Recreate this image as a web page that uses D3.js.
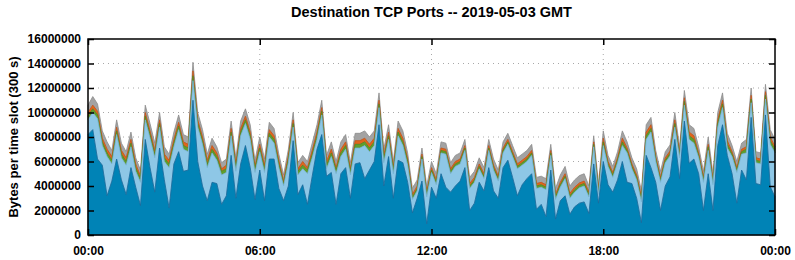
<!DOCTYPE html>
<html>
<head>
<meta charset="utf-8">
<script src="https://cdn.jsdelivr.net/npm/d3@7"></script>
<style>
body { margin: 0; background: #fff; }
text { font-family: "Liberation Sans", Arial, sans-serif; font-weight: bold; }
</style>
</head>
<body>
<div id="chart"></div>
<script>
// values in millions of bytes, one reading every 10 minutes from 00:00 to 24:00
var total = [
  10.6, 11.3, 10.7, 8.5, 7.6, 6.9, 9.4, 7.5, 6.8, 8.4, 6.3, 5.3, 10.6, 9.1, 7.5, 10.0, 7.2, 6.6, 8.4, 9.8,
  8.2, 8.0, 14.1, 10.0, 8.6, 6.6, 7.9, 7.2, 5.9, 6.2, 9.3, 6.3, 9.3, 10.3, 9.0, 6.1, 8.0,
  6.2, 9.2, 8.7, 6.6, 4.9, 7.0, 10.0, 5.9, 6.5, 6.0, 7.5, 9.0, 11.0, 6.5, 7.6, 6.0, 7.6, 8.2, 5.9, 8.3,
  8.3, 8.5, 8.0, 8.5, 11.6, 7.0, 9.0, 6.0, 9.3, 8.5, 6.7, 3.8, 4.5, 7.1, 4.0,
  6.0, 5.0, 7.6, 7.5, 5.9, 6.5, 6.7, 7.8, 4.7, 5.2, 6.3, 5.5, 7.8, 6.2, 5.3, 7.6, 8.3, 7.3, 6.3, 6.6,
  6.9, 7.4, 4.7, 4.8, 4.6, 7.4, 3.8, 4.9, 5.6, 4.0, 4.5, 4.85, 5.0, 4.0, 8.1, 4.2,
  8.5, 6.5, 5.6, 6.8, 8.5, 7.6, 6.3, 5.4, 3.6, 9.0, 9.6, 6.9, 5.2, 6.8, 7.35, 10.0, 7.2, 11.8, 9.0, 8.7,
  7.2, 5.2, 8.0, 5.0, 10.0, 11.6, 8.3, 7.3, 6.0, 7.5, 7.8, 12.0, 6.8, 6.7, 12.3, 8.6, 7.8
];
var dark = [
  8.2, 8.6, 6.2, 5.7, 3.2, 4.4, 6.2, 4.5, 3.3, 5.5, 3.9, 2.4, 7.8, 5.5, 3.5, 7.1, 4.5, 2.2, 5.8, 6.8,
  5.2, 5.3, 11.0, 6.0, 4.0, 2.8, 4.3, 4.2, 2.5, 3.2, 6.5, 3.0, 5.8, 7.3, 5.5, 2.9, 5.3,
  2.8, 6.2, 6.2, 3.8, 2.8, 4.0, 7.7, 3.3, 4.1, 2.5, 4.8, 7.0, 8.2, 4.8, 5.1, 2.5, 5.0, 5.5, 3.0, 5.8,
  5.9, 4.6, 5.3, 6.0, 9.0, 4.0, 6.4, 3.0, 6.1, 5.9, 4.3, 1.8, 3.0, 4.4, 0.9,
  3.9, 3.0, 5.0, 3.9, 3.5, 4.0, 4.4, 5.5, 2.0, 2.6, 4.3, 3.6, 5.5, 3.6, 3.0, 5.5, 6.1, 4.7, 3.2, 4.1,
  4.6, 5.0, 2.1, 2.5, 1.5, 5.3, 1.3, 2.8, 3.2, 1.7, 2.3, 2.6, 2.7, 1.75, 5.8, 2.6,
  6.0, 4.1, 3.5, 4.5, 6.0, 4.3, 4.2, 3.0, 1.0, 6.5, 5.5, 4.3, 2.0, 4.0, 4.75, 7.8, 4.6, 9.3, 5.85, 6.2,
  5.0, 2.0, 5.0, 2.0, 7.3, 9.0, 6.5, 5.0, 2.6, 5.3, 4.5, 9.6, 4.2, 4.1, 9.8, 3.95, 3.1
];
var green = [
  0.3, 0.3, 0.3, 0.3, 0.3, 0.3, 0.3, 0.3, 0.3, 0.3, 0.3, 0.3, 0.3, 0.3, 0.3, 0.3, 0.3, 0.3, 0.3, 0.3,
  0.3, 0.3, 0.4, 0.3, 0.3, 0.3, 0.3, 0.3, 0.3, 0.3, 0.3, 0.3, 0.3, 0.3, 0.3, 0.3, 0.3,
  0.3, 0.3, 0.3, 0.3, 0.2, 0.3, 0.3, 0.3, 0.3, 0.3, 0.3, 0.3, 0.3, 0.3, 0.3, 0.3, 0.3, 0.3, 0.3, 0.3,
  0.3, 0.3, 0.3, 0.3, 0.3, 0.3, 0.3, 0.3, 0.3, 0.3, 0.3, 0.2, 0.2, 0.2, 0.2,
  0.2, 0.2, 0.2, 0.2, 0.2, 0.2, 0.2, 0.2, 0.2, 0.2, 0.2, 0.2, 0.2, 0.2, 0.2, 0.2, 0.2, 0.2, 0.2, 0.2,
  0.2, 0.2, 0.2, 0.2, 0.2, 0.2, 0.2, 0.2, 0.2, 0.2, 0.2, 0.2, 0.2, 0.2, 0.2, 0.2,
  0.3, 0.2, 0.2, 0.2, 0.3, 0.2, 0.2, 0.2, 0.2, 0.3, 0.3, 0.2, 0.2, 0.2, 0.2, 0.3, 0.2, 0.3, 0.3, 0.3,
  0.2, 0.2, 0.3, 0.2, 0.3, 0.3, 0.3, 0.2, 0.2, 0.2, 0.3, 0.3, 0.2, 0.2, 0.3, 0.3, 0.3
];
var orange = [
  0.3, 0.3, 0.3, 0.3, 0.3, 0.3, 0.3, 0.3, 0.3, 0.3, 0.3, 0.2, 0.3, 0.3, 0.3, 0.3, 0.3, 0.3, 0.3, 0.3,
  0.3, 0.3, 0.4, 0.3, 0.3, 0.3, 0.3, 0.3, 0.2, 0.3, 0.3, 0.3, 0.3, 0.3, 0.3, 0.2, 0.3,
  0.3, 0.3, 0.3, 0.3, 0.2, 0.3, 0.3, 0.2, 0.3, 0.2, 0.3, 0.3, 0.3, 0.3, 0.3, 0.2, 0.3, 0.3, 0.2, 0.3,
  0.3, 0.3, 0.3, 0.3, 0.3, 0.3, 0.3, 0.2, 0.3, 0.3, 0.2, 0.2, 0.2, 0.2, 0.2,
  0.2, 0.2, 0.2, 0.2, 0.2, 0.2, 0.2, 0.2, 0.2, 0.2, 0.2, 0.2, 0.2, 0.2, 0.2, 0.2, 0.2, 0.2, 0.2, 0.2,
  0.2, 0.2, 0.2, 0.2, 0.2, 0.2, 0.2, 0.2, 0.2, 0.2, 0.2, 0.2, 0.2, 0.2, 0.2, 0.2,
  0.3, 0.2, 0.2, 0.2, 0.3, 0.2, 0.2, 0.2, 0.2, 0.3, 0.3, 0.2, 0.2, 0.2, 0.2, 0.3, 0.2, 0.3, 0.3, 0.3,
  0.2, 0.2, 0.2, 0.2, 0.3, 0.3, 0.3, 0.2, 0.2, 0.2, 0.2, 0.3, 0.2, 0.2, 0.3, 0.3, 0.2
];
var gray = [
  0.6, 0.7, 0.6, 0.6, 0.6, 0.5, 0.6, 0.6, 0.5, 0.6, 0.5, 0.5, 0.6, 0.6, 0.6, 0.6, 0.6, 0.5, 0.6, 0.6,
  0.6, 0.6, 0.7, 0.6, 0.6, 0.5, 0.6, 0.5, 0.5, 0.5, 0.6, 0.5, 0.6, 0.6, 0.6, 0.5, 0.6,
  0.5, 0.6, 0.6, 0.5, 0.5, 0.5, 0.6, 0.5, 0.5, 0.5, 0.6, 0.6, 0.6, 0.5, 0.6, 0.5, 0.6, 0.6, 0.5, 0.6,
  0.6, 0.6, 0.6, 0.6, 0.6, 0.5, 0.6, 0.5, 0.6, 0.6, 0.5, 0.5, 0.5, 0.5, 0.5,
  0.5, 0.5, 0.5, 0.5, 0.5, 0.5, 0.5, 0.5, 0.5, 0.5, 0.5, 0.5, 0.5, 0.5, 0.5, 0.5, 0.5, 0.5, 0.5, 0.5,
  0.5, 0.5, 0.5, 0.5, 0.5, 0.5, 0.5, 0.6, 0.6, 0.6, 0.6, 0.6, 0.6, 0.5, 0.5, 0.5,
  0.6, 0.5, 0.5, 0.5, 0.6, 0.5, 0.5, 0.5, 0.5, 0.6, 0.6, 0.5, 0.5, 0.5, 0.5, 0.6, 0.5, 0.6, 0.6, 0.6,
  0.5, 0.5, 0.6, 0.5, 0.6, 0.6, 0.6, 0.5, 0.5, 0.5, 0.6, 0.6, 0.5, 0.5, 0.6, 0.6, 0.6
];
var yTicks = [0, 2000000, 4000000, 6000000, 8000000, 10000000, 12000000, 14000000, 16000000];
var xTickHours = [0, 6, 12, 18, 24];

var keys = ["dark", "light", "green", "orange", "gray"];
var fills = { dark: "#0083b6", light: "#8ec7e6", green: "#5f9e2c", orange: "#e0651c", gray: "#a3a3a3" };
var strokes = { dark: "#1a6a9a", light: "#78b4d8", green: "#4f8a26", orange: "#c85418", gray: "#8c8c8c" };

var W = 795, H = 260;
var m = { top: 39, right: 20, bottom: 25, left: 88 };
var day0 = Date.UTC(2019, 4, 3);

var rows = total.map(function(t, i) {
  var l = Math.max(0, t - dark[i] - green[i] - orange[i] - gray[i]);
  return {
    time: new Date(day0 + i * 10 * 60000),
    dark: dark[i] * 1e6, light: l * 1e6, green: green[i] * 1e6,
    orange: orange[i] * 1e6, gray: gray[i] * 1e6
  };
});

var svg = d3.select("#chart").append("svg").attr("width", W).attr("height", H);

var x = d3.scaleUtc().domain([new Date(day0), new Date(day0 + 24 * 3600000)]).range([m.left, W - m.right]);
var y = d3.scaleLinear().domain([0, 16000000]).range([H - m.bottom, m.top]);
var xTicks = xTickHours.map(function(h) { return new Date(day0 + h * 3600000); });

// grid
var grid = svg.append("g").attr("stroke", "#a8a8a8").attr("stroke-dasharray", "1,4");
grid.selectAll(".gy").data(yTicks.slice(1, -1)).enter().append("line")
  .attr("x1", m.left).attr("x2", W - m.right).attr("y1", function(d) { return y(d); }).attr("y2", function(d) { return y(d); });
grid.selectAll(".gx").data(xTicks.slice(1, -1)).enter().append("line")
  .attr("y1", m.top).attr("y2", H - m.bottom).attr("x1", function(d) { return x(d); }).attr("x2", function(d) { return x(d); });

var series = d3.stack().keys(keys)(rows);
var area = d3.area()
  .x(function(d) { return x(d.data.time); })
  .y0(function(d) { return y(d[0]); })
  .y1(function(d) { return y(d[1]); });

svg.append("g").selectAll("path").data(series.slice().reverse()).enter().append("path")
  .attr("d", area)
  .attr("fill", function(d) { return fills[d.key]; })
  .attr("stroke", function(d) { return strokes[d.key]; })
  .attr("stroke-width", 0.8);

// axes with inward ticks, mirrored on top and right
var fmtY = d3.format("d");
var axLeft = svg.append("g").attr("transform", "translate(" + m.left + ",0)")
  .call(d3.axisLeft(y).tickValues(yTicks).tickFormat(fmtY).tickSize(-6).tickPadding(7));
var axRight = svg.append("g").attr("transform", "translate(" + (W - m.right) + ",0)")
  .call(d3.axisRight(y).tickValues(yTicks).tickFormat("").tickSize(-6));
var axBottom = svg.append("g").attr("transform", "translate(0," + (H - m.bottom) + ")")
  .call(d3.axisBottom(x).tickValues(xTicks).tickFormat(d3.utcFormat("%H:%M")).tickSize(-6).tickPadding(11));
var axTop = svg.append("g").attr("transform", "translate(0," + m.top + ")")
  .call(d3.axisTop(x).tickValues(xTicks).tickFormat("").tickSize(-6));

[axLeft, axRight, axBottom, axTop].forEach(function(g) {
  g.select(".domain").remove();
  g.selectAll("line").attr("stroke", "#000").attr("stroke-width", 1.5);
  g.selectAll("text").attr("fill", "#000").style("font-size", "12px").style("font-weight", "bold")
    .style("font-family", "'Liberation Sans', Arial, sans-serif");
});

svg.append("rect").attr("x", m.left).attr("y", m.top)
  .attr("width", W - m.left - m.right).attr("height", H - m.top - m.bottom)
  .attr("fill", "none").attr("stroke", "#000").attr("stroke-width", 1.5);

svg.append("text").attr("x", (m.left + W - m.right) / 2).attr("y", 17)
  .attr("text-anchor", "middle").style("font-size", "14.5px").text("Destination TCP Ports -- 2019-05-03 GMT");

svg.append("text").attr("transform", "translate(18," + ((m.top + H - m.bottom) / 2) + ") rotate(-90)")
  .attr("text-anchor", "middle").style("font-size", "13px").text("Bytes per time slot (300 s)");
</script>
</body>
</html>
